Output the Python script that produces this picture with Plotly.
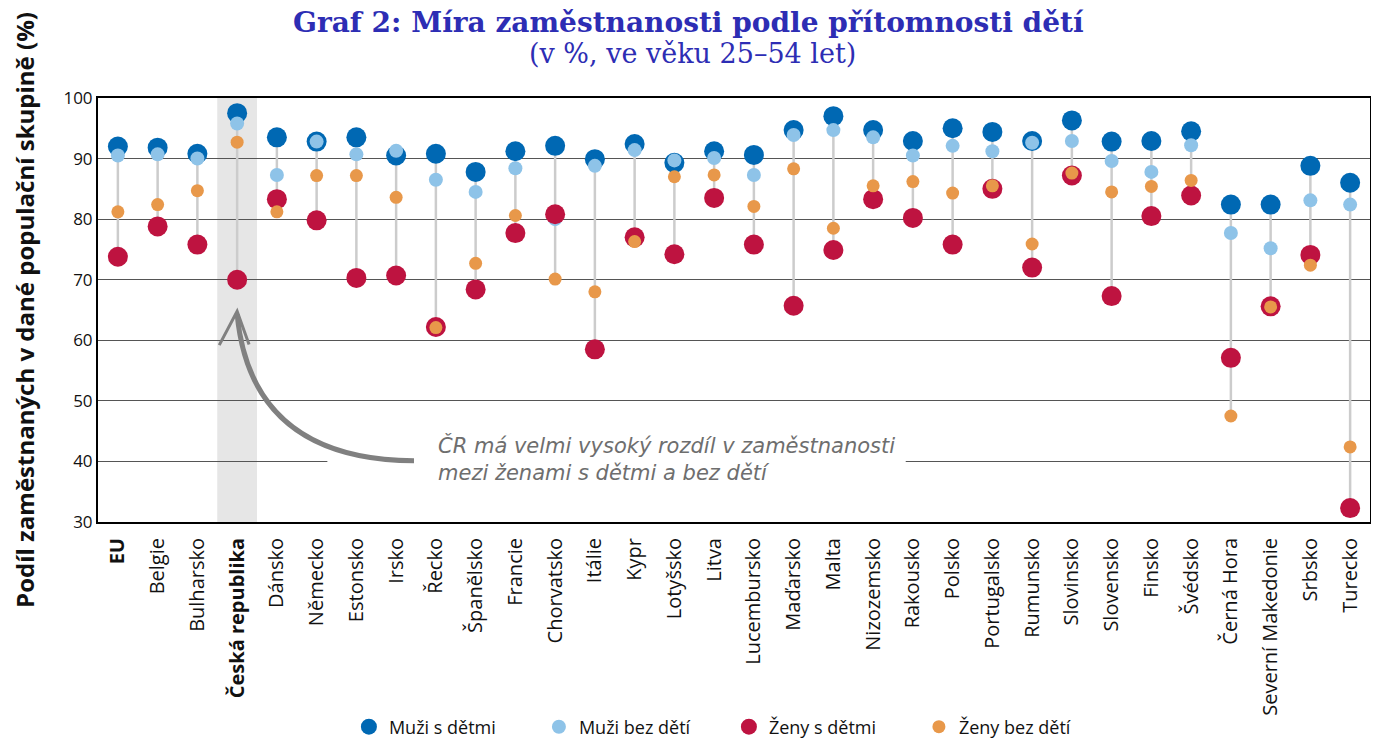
import plotly.graph_objects as go

countries = ["<b>EU</b>", "Belgie", "Bulharsko", "<b>Česká republika</b>", "Dánsko", "Německo",
             "Estonsko", "Irsko", "Řecko", "Španělsko", "Francie", "Chorvatsko", "Itálie", "Kypr",
             "Lotyšsko", "Litva", "Lucembursko", "Maďarsko", "Malta", "Nizozemsko", "Rakousko",
             "Polsko", "Portugalsko", "Rumunsko", "Slovinsko", "Slovensko", "Finsko", "Švédsko",
             "Černá Hora", "Severní Makedonie", "Srbsko", "Turecko"]

muzi_s_detmi = [92.0, 91.8, 90.8, 97.5, 93.5, 92.8, 93.5, 90.5, 90.8, 87.8, 91.2, 92.1, 89.9, 92.4,
                89.3, 91.2, 90.6, 94.7, 97.0, 94.7, 92.9, 95.0, 94.4, 92.9, 96.3, 92.8, 92.9, 94.5,
                82.4, 82.4, 88.8, 86.0]
muzi_bez_deti = [90.5, 90.7, 90.0, 95.8, 87.3, 92.8, 90.7, 91.3, 86.5, 84.5, 88.4, 80.0, 88.8, 91.4,
                 89.7, 90.1, 87.3, 93.9, 94.7, 93.5, 90.5, 92.1, 91.2, 92.6, 92.9, 89.6, 87.8, 92.2,
                 77.7, 75.2, 83.1, 82.4]
zeny_s_detmi = [73.8, 78.8, 75.8, 70.0, 83.3, 79.8, 70.3, 70.7, 62.2, 68.4, 77.7, 80.8, 58.5, 77.0,
                74.2, 83.5, 75.8, 65.7, 74.9, 83.3, 80.2, 75.8, 85.0, 72.0, 87.2, 67.3, 80.5, 83.9,
                57.1, 65.6, 74.1, 32.3]
zeny_bez_deti = [81.2, 82.4, 84.7, 92.7, 81.2, 87.2, 87.2, 83.6, 62.1, 72.7, 80.6, 70.1, 68.0, 76.3,
                 87.0, 87.3, 82.1, 88.3, 78.5, 85.5, 86.2, 84.3, 85.5, 75.9, 87.6, 84.5, 85.4, 86.4,
                 47.5, 65.5, 72.4, 42.4]

series_names = ["Muži s dětmi", "Muži bez dětí", "Ženy s dětmi", "Ženy bez dětí"]
series_colors = ["#0068b3", "#8ec3e8", "#be1340", "#e8984a"]
series_sizes = [20, 14, 20, 13]

fig = go.Figure()

# connecting lines (min to max per country)
lx, ly = [], []
for i, c in enumerate(countries):
    vals = [muzi_s_detmi[i], muzi_bez_deti[i], zeny_s_detmi[i], zeny_bez_deti[i]]
    lx += [c, c, None]
    ly += [min(vals), max(vals), None]
fig.add_trace(go.Scatter(x=lx, y=ly, mode="lines", line=dict(color="#cccccc", width=2.5),
                         showlegend=False, hoverinfo="skip"))

for name, vals, col, sz in zip(series_names,
                               [muzi_s_detmi, muzi_bez_deti, zeny_s_detmi, zeny_bez_deti],
                               series_colors, series_sizes):
    fig.add_trace(go.Scatter(x=countries, y=vals, mode="markers", name=name,
                             marker=dict(color=col, size=sz, line=dict(width=0))))

shapes = [
    dict(type="rect", xref="x", yref="paper", x0=2.5, x1=3.5, y0=0, y1=1,
         fillcolor="#e6e6e6", line=dict(width=0), layer="below"),
    dict(type="rect", xref="x", yref="y", x0=5.27, x1=19.82, y0=39.4, y1=40.6,
         fillcolor="white", line=dict(width=0), layer="between"),
    dict(type="path", xref="x", yref="y", path="M 7.45,40.1 Q 3.35,40.3 3.0,64.3",
         line=dict(color="#808080", width=5), layer="above"),
    dict(type="path", xref="x", yref="y", path="M 2.55,59.2 L 3.0,64.8 L 3.3,59.3",
         line=dict(color="#808080", width=3), layer="above"),
]

annotations = [
    dict(text="<b>Graf 2: Míra zaměstnanosti podle přítomnosti dětí</b>", xref="paper", yref="paper",
         x=0.464, y=1.179, xanchor="center", yanchor="middle", showarrow=False,
         font=dict(family="DejaVu Serif", size=28, color="#2d2db4")),
    dict(text="(v %, ve věku 25–54 let)", xref="paper", yref="paper",
         x=0.467, y=1.106, xanchor="center", yanchor="middle", showarrow=False,
         font=dict(family="DejaVu Serif", size=27, color="#2d2db4")),
    dict(text="<i>ČR má velmi vysoký rozdíl v zaměstnanosti<br>mezi ženami s dětmi a bez dětí</i>",
         xref="x", yref="y", x=8.0, y=40.4, xanchor="left", yanchor="middle", showarrow=False,
         align="left", font=dict(family="DejaVu Sans", size=21, color="#6e6e6e")),
]

fig.update_layout(
    width=1379, height=740,
    margin=dict(l=90, r=17, t=90, b=226, autoexpand=False),
    plot_bgcolor="rgba(0,0,0,0)", paper_bgcolor="white",
    shapes=shapes, annotations=annotations,
    legend=dict(orientation="h", x=0.496, xanchor="center", y=-0.4835, yanchor="middle",
                font=dict(family="Open Sans", size=18, color="#111"), itemwidth=30,
                entrywidth=145, entrywidthmode="pixels", traceorder="normal"),
    font=dict(family="Open Sans", color="#111"),
)
fig.update_xaxes(type="category", range=[-0.5, 31.5], tickangle=-90, showgrid=False,
                 tickfont=dict(family="Open Sans", size=20, color="#111"), ticklabelstandoff=6,
                 showline=True, mirror=True, linecolor="black", linewidth=2, ticks="",
                 automargin=False)
fig.update_yaxes(range=[30, 100], dtick=10, showgrid=True, gridcolor="#555555", gridwidth=1,
                 tickfont=dict(family="Open Sans", size=17, color="#111"),
                 showline=True, mirror=True, linecolor="black", linewidth=2, automargin=False,
                 title=dict(text="<b>Podíl zaměstnaných v dané populační skupině (%)</b>",
                            font=dict(family="Open Sans", size=24, color="#111"), standoff=26),
                 zeroline=False)

fig.write_html("out.html")
